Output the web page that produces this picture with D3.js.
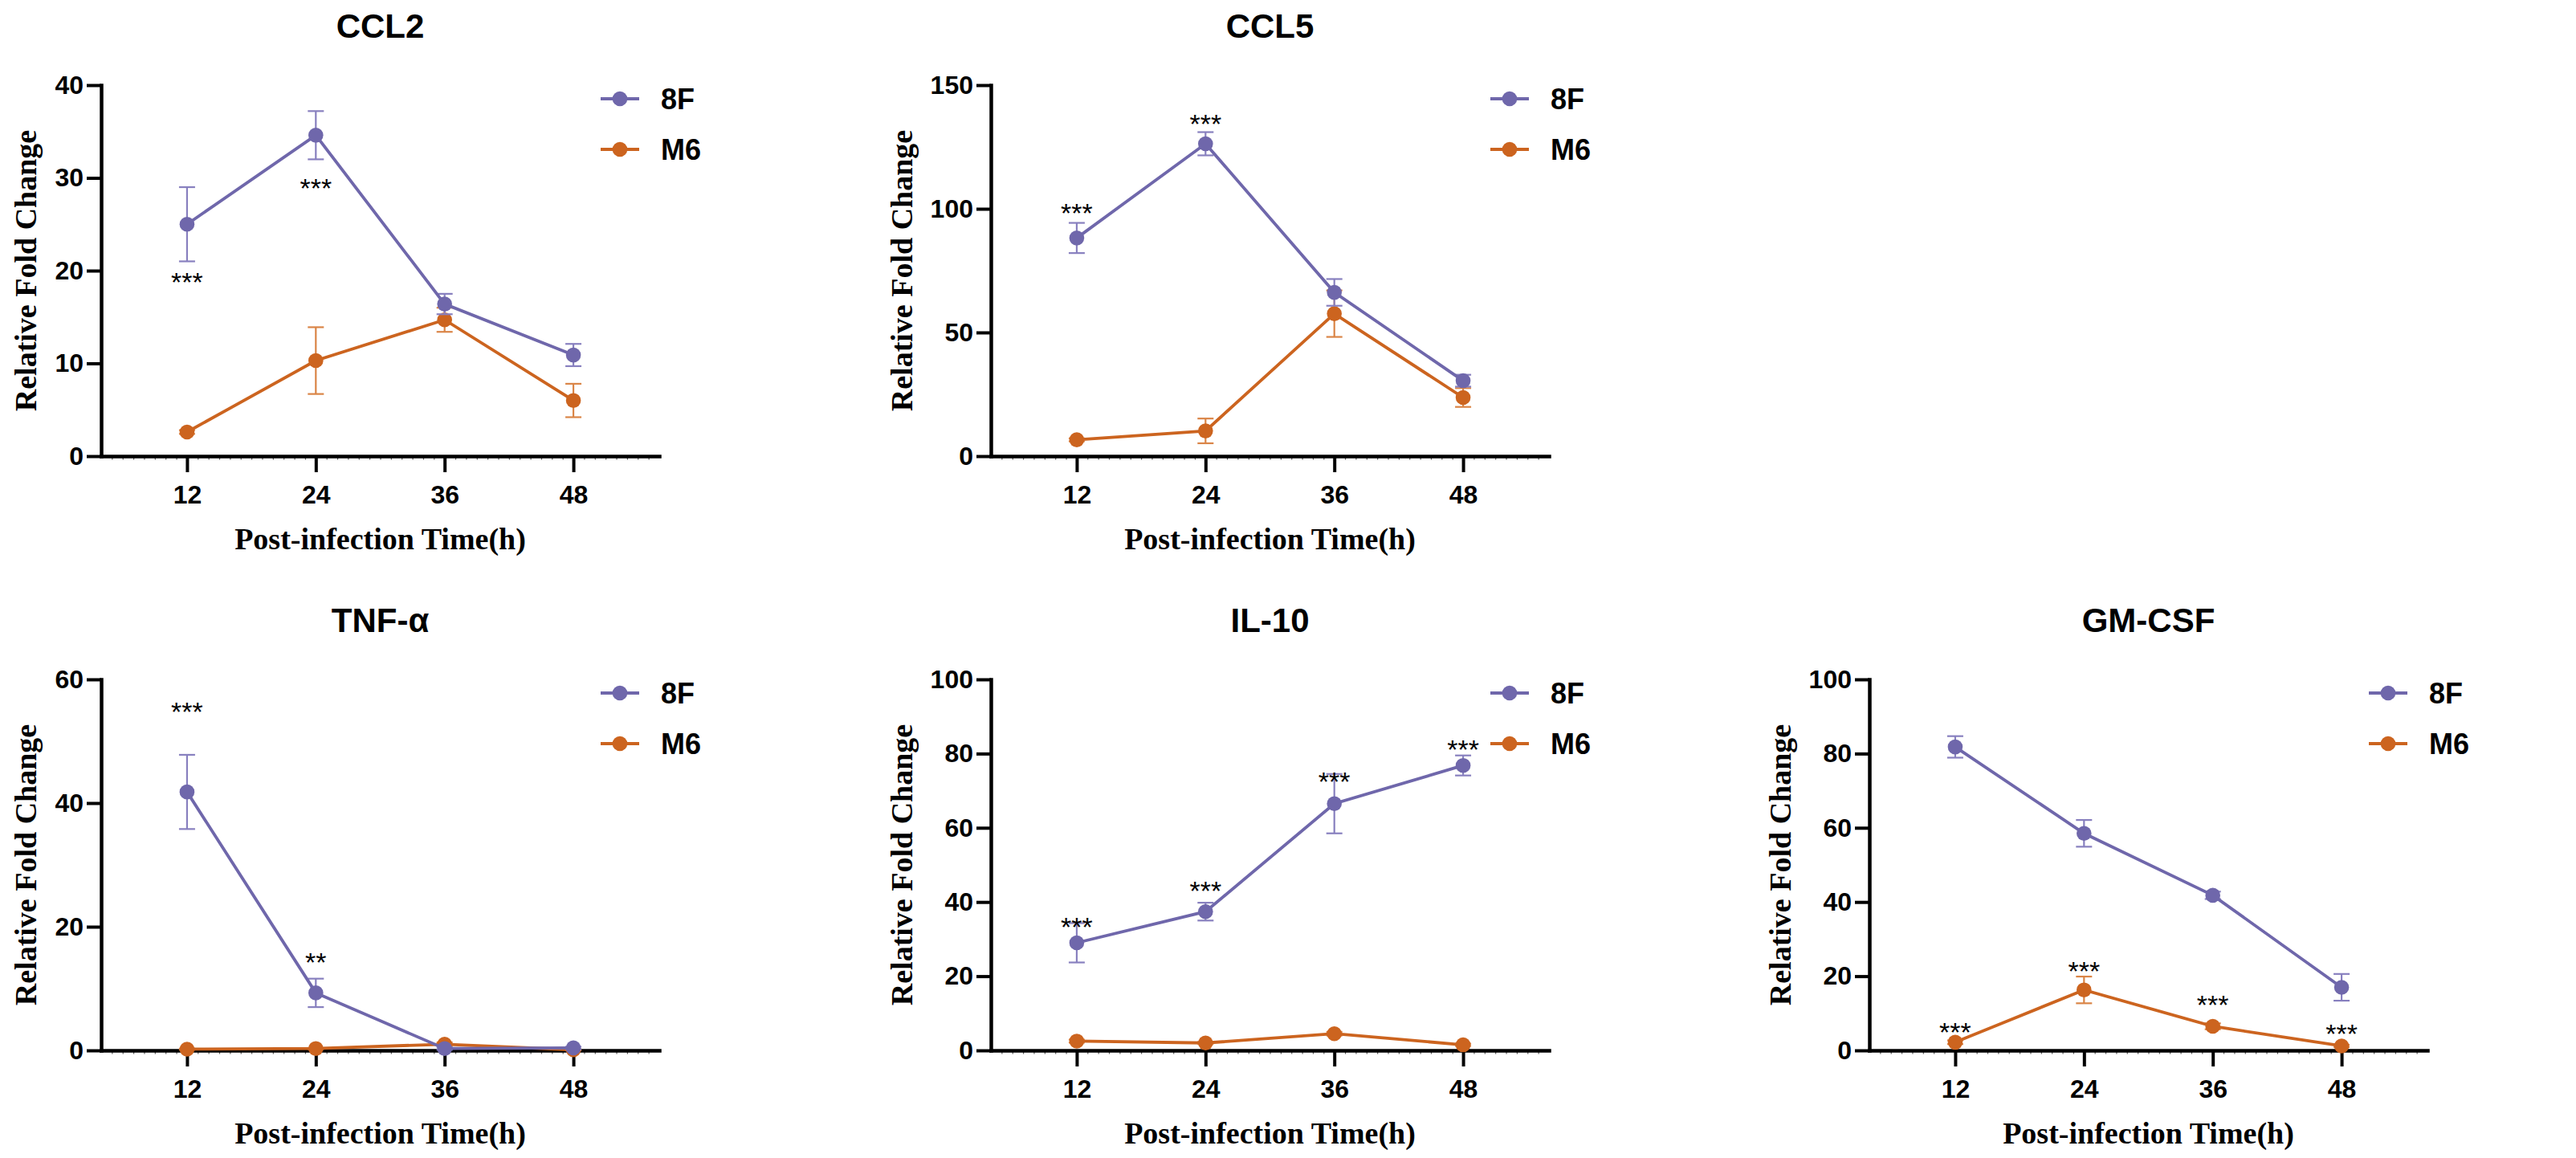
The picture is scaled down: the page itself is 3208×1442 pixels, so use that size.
<!DOCTYPE html>
<html>
<head>
<meta charset="utf-8">
<script src="https://cdn.jsdelivr.net/npm/d3@7"></script>
<style>
    body { margin: 0; background: #fff; }
    svg { display: block; }
    .sans { font-family: "Liberation Sans", Arial, sans-serif; font-weight: bold; }
    .serif { font-family: "Liberation Serif", "Times New Roman", serif; font-weight: bold; }
</style>
</head>
<body>
<svg id="chart"></svg>
<script>
// ---- data ----
const times = [12, 24, 36, 48];
const groups = ['8F', 'M6'];
const titles = ['CCL2', 'CCL5', 'TNF-α', 'IL-10', 'GM-CSF'];
const yMax = [40, 150, 60, 100, 100];
const yStep = [10, 50, 20, 20, 20];

const ccl2_8F = [25.0, 34.6, 16.4, 10.9];
const ccl2_8F_sd = [4.0, 2.6, 1.1, 1.2];
const ccl2_M6 = [2.6, 10.3, 14.7, 6.0];
const ccl2_M6_sd = [0.2, 3.6, 1.3, 1.8];

const ccl5_8F = [88.2, 126.3, 66.2, 30.5];
const ccl5_8F_sd = [6.1, 4.7, 5.4, 2.4];
const ccl5_M6 = [6.6, 10.2, 57.6, 23.7];
const ccl5_M6_sd = [0.6, 5.0, 9.4, 3.8];

const tnf_8F = [41.8, 9.3, 0.3, 0.4];
const tnf_8F_sd = [6.0, 2.3, 0.2, 0.2];
const tnf_M6 = [0.2, 0.3, 1.0, 0.1];
const tnf_M6_sd = [0.1, 0.1, 0.3, 0.1];

const il10_8F = [29.0, 37.4, 66.5, 76.8];
const il10_8F_sd = [5.3, 2.4, 8.0, 2.7];
const il10_M6 = [2.5, 2.0, 4.5, 1.5];
const il10_M6_sd = [0.4, 0.3, 0.5, 0.3];

const gm_8F = [81.8, 58.5, 41.8, 17.0];
const gm_8F_sd = [2.9, 3.6, 1.0, 3.6];
const gm_M6 = [2.2, 16.3, 6.5, 1.2];
const gm_M6_sd = [0.5, 3.6, 0.8, 0.3];

// significance marks: [time, level in data units, text]
const ccl2_stars = [[12, 19.5, '***'], [24, 29.6, '***']];
const ccl5_stars = [[12, 101, '***'], [24, 137, '***']];
const tnf_stars = [[12, 55.9, '***'], [24, 15.3, '**']];
const il10_stars = [[12, 35.0, '***'], [24, 44.7, '***'], [36, 74.3, '***'], [48, 82.8, '***']];
const gm_stars = [[12, 6.7, '***'], [24, 23.1, '***'], [36, 14.1, '***'], [48, 6.2, '***']];

const means = [[ccl2_8F, ccl2_M6], [ccl5_8F, ccl5_M6], [tnf_8F, tnf_M6], [il10_8F, il10_M6], [gm_8F, gm_M6]];
const sds = [[ccl2_8F_sd, ccl2_M6_sd], [ccl5_8F_sd, ccl5_M6_sd], [tnf_8F_sd, tnf_M6_sd], [il10_8F_sd, il10_M6_sd], [gm_8F_sd, gm_M6_sd]];
const stars = [ccl2_stars, ccl5_stars, tnf_stars, il10_stars, gm_stars];

// ---- layout ----
const W = 3208, H = 1442;
const colX = [126, 1234, 2328];
const rowY = [106, 846];
const cells = [[0, 0], [1, 0], [0, 1], [1, 1], [2, 1]];
const plotW = 695, plotH = 462;
const lineColor = ['#6f67ab', '#cc641f'];
const errColor = ['#8880bf', '#da8547'];

const svg = d3.select('#chart').attr('width', W).attr('height', H);

const x = d3.scaleLinear().domain([4, 56]).range([0, plotW]);

titles.forEach((title, p) => {
    const [c, r] = cells[p];
    const g = svg.append('g').attr('transform', `translate(${colX[c]},${rowY[r]})`);
    const y = d3.scaleLinear().domain([0, yMax[p]]).range([plotH, 0]);

    // title
    g.append('text')
        .attr('class', 'sans')
        .attr('x', plotW / 2)
        .attr('y', -59)
        .attr('text-anchor', 'middle')
        .style('font-size', '42px')
        .text(title);

    // faint minor ticks on x axis
    g.append('g')
        .attr('transform', `translate(0,${plotH})`)
        .call(d3.axisBottom(x).tickValues(d3.range(5, 56).filter(v => !times.includes(v))).tickSize(4.5).tickFormat(''))
        .call(s => s.select('.domain').remove())
        .call(s => s.selectAll('line').attr('stroke', '#555').attr('stroke-width', 1.2));

    // y axis
    const yAxis = g.append('g')
        .call(d3.axisLeft(y).tickValues(d3.range(0, yMax[p] + 1, yStep[p])).tickSize(18).tickSizeOuter(0).tickPadding(4));
    yAxis.selectAll('text').attr('class', 'sans').style('font-size', '32px').attr('fill', '#000');

    // x axis
    const xAxis = g.append('g')
        .attr('transform', `translate(0,${plotH})`)
        .call(d3.axisBottom(x).tickValues(times).tickSize(20).tickSizeOuter(0).tickPadding(16));
    xAxis.selectAll('text').attr('class', 'sans').style('font-size', '32px').attr('fill', '#000');

    [yAxis, xAxis].forEach(a => {
        a.select('.domain').attr('stroke', '#000').attr('stroke-width', 4.5).attr('stroke-linecap', 'square');
        a.selectAll('.tick line').attr('stroke', '#000').attr('stroke-width', 4);
    });

    // axis titles
    const labelW = d3.max(yAxis.selectAll('text').nodes(), n => n.getBBox().width);
    g.append('text')
        .attr('class', 'serif')
        .attr('transform', `translate(${-(18 + 4 + labelW + 36)},${plotH / 2}) rotate(-90)`)
        .attr('text-anchor', 'middle')
        .attr('dominant-baseline', 'central')
        .style('font-size', '38px')
        .text('Relative Fold Change');

    g.append('text')
        .attr('class', 'serif')
        .attr('x', plotW / 2)
        .attr('y', plotH + 116)
        .attr('text-anchor', 'middle')
        .style('font-size', '38px')
        .text('Post-infection Time(h)');

    // series: M6 first so 8F sits on top
    [1, 0].forEach(s => {
        const pts = times.map((t, i) => ({ t, v: means[p][s][i], sd: sds[p][s][i] }));
        const sg = g.append('g');

        const err = sg.selectAll('g.err').data(pts).join('g').attr('class', 'err')
            .attr('stroke', errColor[s]).attr('stroke-width', 2.2);
        err.append('line')
            .attr('x1', d => x(d.t)).attr('x2', d => x(d.t))
            .attr('y1', d => y(d.v + d.sd)).attr('y2', d => y(Math.max(0, d.v - d.sd)));
        err.append('line')
            .attr('x1', d => x(d.t) - 10).attr('x2', d => x(d.t) + 10)
            .attr('y1', d => y(d.v + d.sd)).attr('y2', d => y(d.v + d.sd));
        err.append('line')
            .attr('x1', d => x(d.t) - 10).attr('x2', d => x(d.t) + 10)
            .attr('y1', d => y(Math.max(0, d.v - d.sd))).attr('y2', d => y(Math.max(0, d.v - d.sd)));

        sg.append('path')
            .datum(pts)
            .attr('fill', 'none')
            .attr('stroke', lineColor[s])
            .attr('stroke-width', 3.8)
            .attr('d', d3.line().x(d => x(d.t)).y(d => y(d.v)));

        sg.selectAll('circle').data(pts).join('circle')
            .attr('cx', d => x(d.t))
            .attr('cy', d => y(d.v))
            .attr('r', 9.3)
            .attr('fill', lineColor[s]);
    });

    // significance stars (centred on the given level)
    g.selectAll('text.star').data(stars[p]).join('text')
        .attr('class', 'star')
        .attr('x', d => x(d[0]))
        .attr('y', d => y(d[1]) + 20)
        .attr('text-anchor', 'middle')
        .style('font-family', '"Liberation Sans", Arial, sans-serif')
        .style('font-size', '34px')
        .text(d => d[2]);

    // legend
    const lg = g.append('g').attr('transform', `translate(${plotW - 73},17)`);
    groups.forEach((name, s) => {
        const row = lg.append('g').attr('transform', `translate(0,${s * 63})`);
        row.append('line').attr('x1', 0).attr('x2', 48).attr('stroke', lineColor[s]).attr('stroke-width', 4);
        row.append('circle').attr('cx', 24).attr('r', 9.3).attr('fill', lineColor[s]);
        row.append('text')
            .attr('class', 'sans')
            .attr('x', 75)
            .attr('dominant-baseline', 'central')
            .style('font-size', '36px')
            .text(name);
    });
});
</script>
</body>
</html>
